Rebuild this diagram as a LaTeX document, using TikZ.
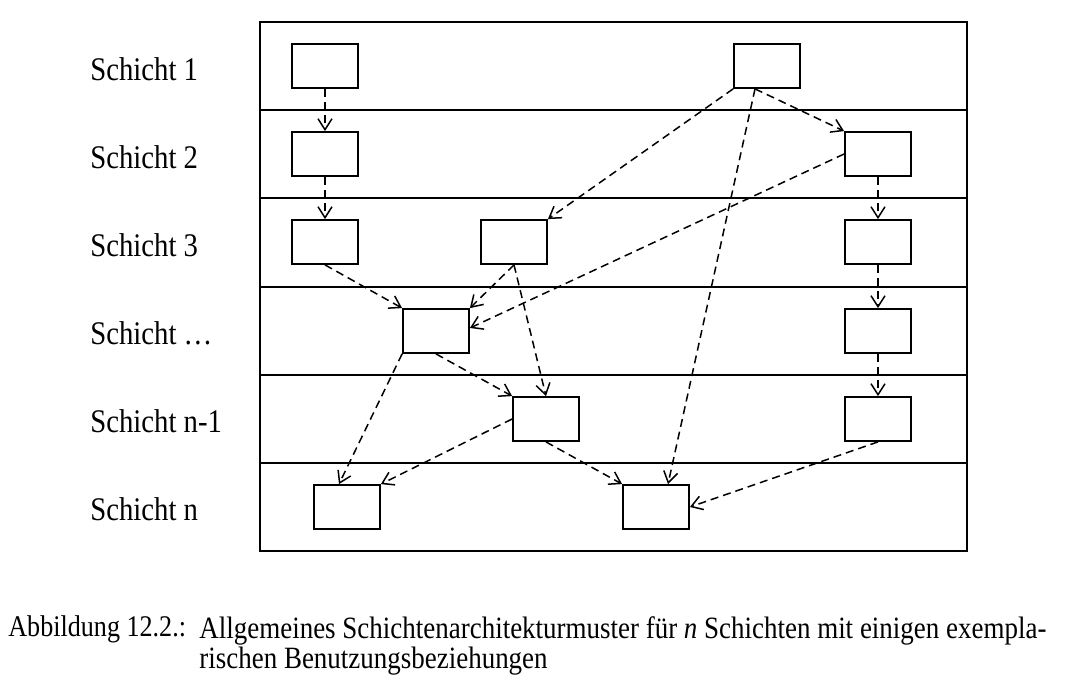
\documentclass[tikz,border=0pt]{standalone}
\usepackage{fontspec}
\setmainfont[FakeStretch=0.87]{Liberation Serif}
\usepackage{tikz}
\usetikzlibrary{positioning, arrows.meta}

\begin{document}
\begin{tikzpicture}[x=0.5pt, y=-0.5pt,
    comp/.style={draw, line width=0.9pt, minimum width=33pt, minimum height=22pt, inner sep=0pt},
    uses/.style={-{Straight Barb[length=5.5pt,width=7pt]}, dash pattern=on 4pt off 2.5pt, line width=0.75pt},
    layer/.style={font=\fontsize{16.5}{19}\selectfont, anchor=base west, inner sep=0pt}]
    \useasboundingbox (0,0) rectangle (1066,680);

    % frame with the layer separators
    \draw[line width=0.9pt] (260,22) rectangle (967,551);
    \foreach \y in {110,198,287,375,463}
        \draw[line width=0.9pt] (260,\y) -- (967,\y);

    % layer names
    \node[layer] (name1) at (90,80) {Schicht 1};
    \node[layer] (name2) at (90,168) {Schicht 2};
    \node[layer] (name3) at (90,256) {Schicht 3};
    \node[layer] (name4) at (90,344) {Schicht \dots};
    \node[layer] (name5) at (90,432) {Schicht n-1};
    \node[layer] (name6) at (90,520) {Schicht n};

    % components
    \node[comp] (a1) at (325,66) {};
    \node[comp] (b1) at (767,66) {};
    \node[comp] (a2) at (325,154) {};
    \node[comp] (d2) at (878,154) {};
    \node[comp] (a3) at (325,242) {};
    \node[comp] (c3) at (514,242) {};
    \node[comp] (d3) at (878,242) {};
    \node[comp] (e4) at (436,331) {};
    \node[comp] (d4) at (878,331) {};
    \node[comp] (g5) at (546,419) {};
    \node[comp] (d5) at (878,419) {};
    \node[comp] (f1) at (347,507) {};
    \node[comp] (f2) at (656,507) {};

    % usage relations
    \draw[uses] (a1) -- (a2);
    \draw[uses] (a2) -- (a3);
    \draw[uses] (b1.south west) -- (c3.north east);
    \draw[uses] ([xshift=-6pt]b1.south) -- (d2.north west);
    \draw[uses] ([xshift=-6pt]b1.south) -- ([xshift=6pt]f2.north);
    \draw[uses] (d2.west) -- ([yshift=1.5pt]e4.east);
    \draw[uses] (d2) -- (d3);
    \draw[uses] (d3) -- (d4);
    \draw[uses] (d4) -- (d5);
    \draw[uses] (a3.south) -- (e4.north west);
    \draw[uses] (c3.south) -- (e4.north east);
    \draw[uses] (c3.south) -- (g5.north);
    \draw[uses] (e4.south west) -- ([xshift=-4pt]f1.north);
    \draw[uses] (e4.south) -- (g5.north west);
    \draw[uses] (g5.west) -- (f1.north east);
    \draw[uses] (g5.south) -- (f2.north west);
    \draw[uses] (d5.south) -- (f2.east);

    % caption
    \node[anchor=base west, inner sep=0pt, font=\fontsize{15}{12}\selectfont] (fig) at (8,636) {Abbildung 12.2.:};
    \node[anchor=north west, inner sep=0pt, align=left, font=\fontsize{15.5}{12}\selectfont] (cap) at (199,616)
        {Allgemeines Schichtenarchitekturmuster für \textit{n} Schichten mit einigen exempla-\\
         rischen Benutzungsbeziehungen};
\end{tikzpicture}
\end{document}
